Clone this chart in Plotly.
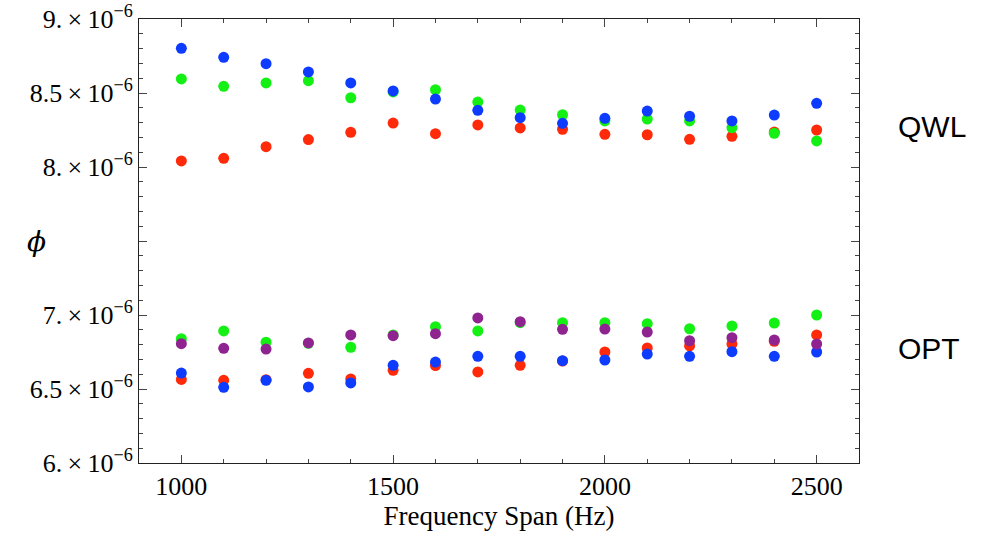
import plotly.graph_objects as go

freq = [1000, 1100, 1200, 1300, 1400, 1500, 1600, 1700, 1800, 1900, 2000, 2100, 2200, 2300, 2400, 2500]

# QWL group (units of 1e-6)
qwl_blue = [8.802, 8.741, 8.698, 8.642, 8.568, 8.514, 8.459, 8.383, 8.333, 8.295, 8.329, 8.378, 8.343, 8.311, 8.351, 8.430]
qwl_green = [8.595, 8.545, 8.568, 8.583, 8.468, 8.507, 8.522, 8.439, 8.385, 8.353, 8.311, 8.324, 8.311, 8.266, 8.228, 8.176]
qwl_red = [8.041, 8.059, 8.137, 8.185, 8.234, 8.297, 8.225, 8.284, 8.264, 8.255, 8.221, 8.218, 8.187, 8.207, 8.236, 8.250]

# OPT group (units of 1e-6)
opt_green = [6.840, 6.892, 6.816, 6.809, 6.782, 6.865, 6.921, 6.892, 6.948, 6.948, 6.948, 6.941, 6.907, 6.926, 6.946, 7.000]
opt_purple = [6.806, 6.775, 6.770, 6.811, 6.865, 6.860, 6.874, 6.980, 6.955, 6.903, 6.905, 6.885, 6.826, 6.847, 6.831, 6.804]
opt_blue = [6.608, 6.511, 6.559, 6.514, 6.541, 6.660, 6.682, 6.721, 6.721, 6.691, 6.696, 6.736, 6.721, 6.752, 6.721, 6.750]
opt_red = [6.565, 6.559, 6.563, 6.606, 6.568, 6.626, 6.658, 6.615, 6.660, 6.689, 6.750, 6.777, 6.791, 6.804, 6.822, 6.865]

y_tickvals = [6.0, 6.5, 7.0, 7.5, 8.0, 8.5, 9.0]
y_ticktext = ["6.\u2009×\u200910<sup>−6</sup>", "6.5\u2009×\u200910<sup>−6</sup>", "7.\u2009×\u200910<sup>−6</sup>", " ",
              "8.\u2009×\u200910<sup>−6</sup>", "8.5\u2009×\u200910<sup>−6</sup>", "9.\u2009×\u200910<sup>−6</sup>"]
x_tickvals = [1000, 1500, 2000, 2500]

BLUE = "#0d3cff"
GREEN = "#14f014"
RED = "#ff2a0a"
PURPLE = "#8f2490"

scale = 1e-6
series = [
    (qwl_red, RED), (qwl_green, GREEN), (qwl_blue, BLUE),
    (opt_red, RED), (opt_blue, BLUE), (opt_green, GREEN), (opt_purple, PURPLE),
]

fig = go.Figure()
for vals, col in series:
    fig.add_trace(go.Scatter(
        x=freq, y=[v * scale for v in vals], mode="markers",
        marker=dict(color=col, size=11, line=dict(width=0)),
        showlegend=False,
    ))

axis_common = dict(
    showline=True, linecolor="#222", linewidth=1, mirror="ticks",
    ticks="inside", ticklen=8, tickcolor="#444", tickwidth=1,
    showgrid=False, zeroline=False, automargin=False,
)

fig.update_xaxes(
    range=[900, 2600], tickvals=x_tickvals,
    tickfont=dict(family="Liberation Serif", size=26, color="black"),
    title=dict(text="Frequency Span (Hz)", font=dict(family="Liberation Serif", size=27, color="black"), standoff=2),
    minor=dict(ticks="inside", ticklen=4, dtick=100, tickcolor="#444"),
    **axis_common,
)
fig.update_yaxes(
    range=[6e-6, 9e-6], tickvals=[v * scale for v in y_tickvals], ticktext=y_ticktext,
    tickfont=dict(family="Liberation Serif", size=26, color="black"),
    minor=dict(ticks="inside", ticklen=4, dtick=1e-7, tickcolor="#444"),
    **axis_common,
)

fig.add_annotation(text="<i>ϕ</i>", xref="paper", yref="paper", x=-0.143, y=0.498,
                   xanchor="center", yanchor="middle",
                   showarrow=False, font=dict(family="DejaVu Serif", size=28, color="black"))
fig.add_annotation(text="QWL", xref="paper", yref="paper", x=1.051, y=0.759,
                   xanchor="left", yanchor="middle",
                   showarrow=False, font=dict(family="Liberation Sans", size=30, color="black"))
fig.add_annotation(text="OPT", xref="paper", yref="paper", x=1.051, y=0.259,
                   xanchor="left", yanchor="middle",
                   showarrow=False, font=dict(family="Liberation Sans", size=30, color="black"))

fig.update_layout(
    width=986, height=534,
    margin=dict(l=139, r=127, t=19, b=71),
    plot_bgcolor="white", paper_bgcolor="white",
)

fig.write_html("out.html", config={"displayModeBar": False},
               post_script="document.body.style.margin='0';document.body.style.overflow='hidden';")
